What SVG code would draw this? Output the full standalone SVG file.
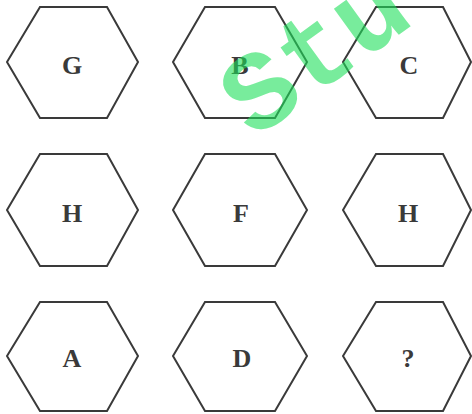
<svg xmlns="http://www.w3.org/2000/svg" width="472" height="414" viewBox="0 0 472 414">
<style>
.hex{fill:none;stroke:#3a3a3a;stroke-width:2;stroke-linejoin:miter}
.lbl{font-family:"Liberation Serif","DejaVu Serif",serif;font-size:26px;font-weight:bold;fill:#3a3a3a;text-anchor:middle}
.wm{font-family:"Liberation Mono","DejaVu Sans Mono",monospace;font-size:112px;font-weight:bold;fill:#1ee05a;fill-opacity:0.6}
</style>
<rect width="472" height="414" fill="#fff"/>
<g id="n-G"><polygon class="hex" points="7,62 40,7 107,7 138,62 107,118 40,118"/><text class="lbl" x="72" y="74">G</text></g>
<g id="n-B"><polygon class="hex" points="173,62 205,7 275,7 307,62 275,118 205,118"/><text class="lbl" x="240" y="74">B</text></g>
<g id="n-C"><polygon class="hex" points="343,62 376,7 443,7 471,62 443,118 376,118"/><text class="lbl" x="409" y="74">C</text></g>
<g id="n-H1"><polygon class="hex" points="7,210 40,154 107,154 138,210 107,266 40,266"/><text class="lbl" x="72" y="222">H</text></g>
<g id="n-F"><polygon class="hex" points="173,210 205,154 275,154 307,210 275,266 205,266"/><text class="lbl" x="241" y="222">F</text></g>
<g id="n-H2"><polygon class="hex" points="343,210 376,154 443,154 471,210 443,266 376,266"/><text class="lbl" x="408" y="222">H</text></g>
<g id="n-A"><polygon class="hex" points="7,356 40,302 107,302 138,356 107,411 40,411"/><text class="lbl" x="72" y="367">A</text></g>
<g id="n-D"><polygon class="hex" points="173,356 205,302 275,302 307,356 275,411 205,411"/><text class="lbl" x="242" y="367">D</text></g>
<g id="n-Q"><polygon class="hex" points="343,356 376,302 443,302 471,356 443,411 376,411"/><text class="lbl" x="408" y="367">?</text></g>
<g id="connectors"></g>
<text class="wm" x="254" y="140" transform="rotate(-36 254 140)">Stu</text>
</svg>
